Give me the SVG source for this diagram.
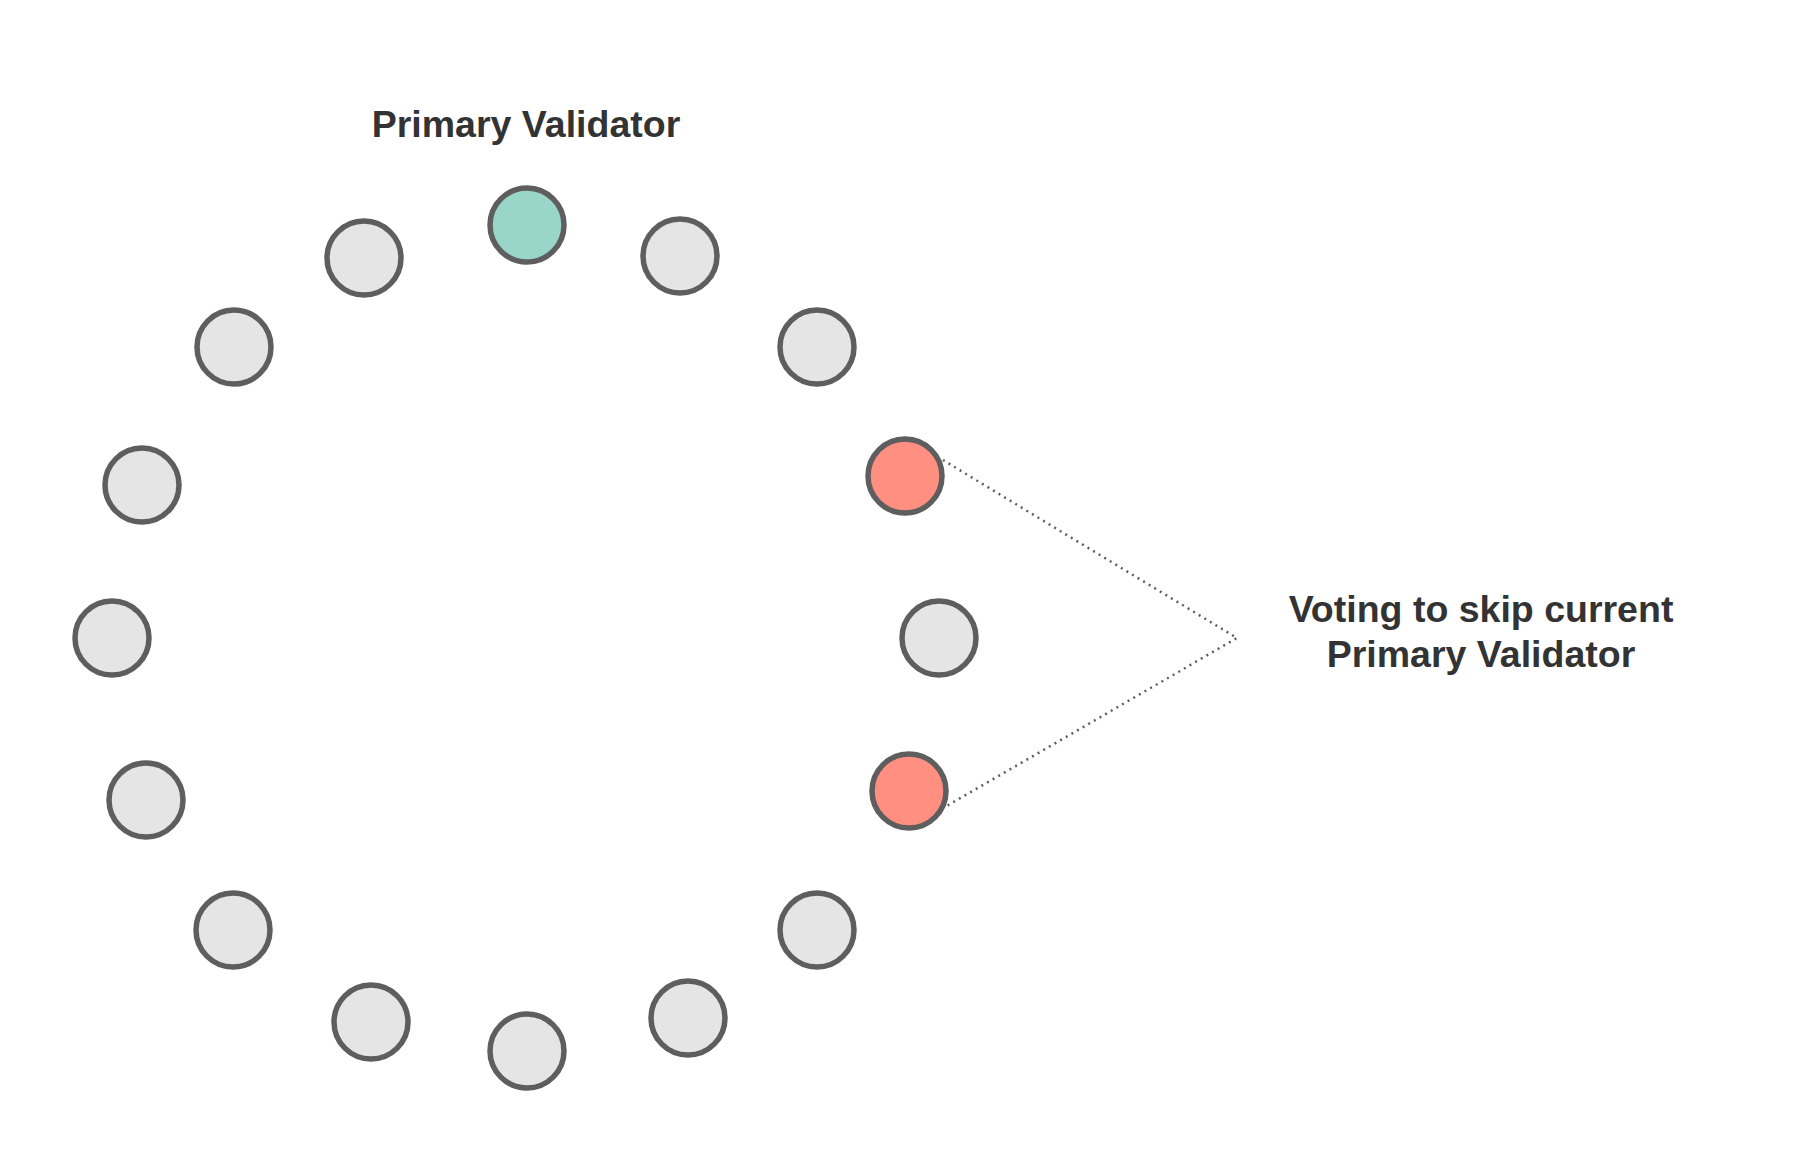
<svg xmlns="http://www.w3.org/2000/svg" width="1804" height="1163" viewBox="0 0 1804 1163">
<style>
.n{fill:#e5e5e5;stroke:#5e5e5e;stroke-width:5.5}
.p{fill:#9ad5ca}
.v{fill:#ff8f80}
.t{font-family:"Liberation Sans",Arial,sans-serif;font-weight:bold;font-size:37.5px;fill:#333;text-anchor:middle}
.c{fill:none;stroke:#5e5e5e;stroke-width:2.5;stroke-dasharray:2 4.5}
</style>
<rect width="1804" height="1163" fill="#fff"/>
<g id="connectors">
<polyline class="c" points="943,460 1237,638 945,807"/>
</g>
<g id="label-primary"><text class="t" x="526" y="137">Primary Validator</text></g>
<g id="label-voting"><text class="t" x="1481" y="622">Voting to skip current</text><text class="t" x="1481" y="667">Primary Validator</text></g>
<g id="node1"><circle class="n p" cx="527" cy="225" r="37"/></g>
<g id="node2"><circle class="n" cx="680" cy="256" r="37"/></g>
<g id="node3"><circle class="n" cx="817" cy="347" r="37"/></g>
<g id="node4"><circle class="n v" cx="905" cy="476" r="37"/></g>
<g id="node5"><circle class="n" cx="939" cy="638" r="37"/></g>
<g id="node6"><circle class="n v" cx="909" cy="791" r="37"/></g>
<g id="node7"><circle class="n" cx="817" cy="930" r="37"/></g>
<g id="node8"><circle class="n" cx="688" cy="1018" r="37"/></g>
<g id="node9"><circle class="n" cx="527" cy="1051" r="37"/></g>
<g id="node10"><circle class="n" cx="371" cy="1022" r="37"/></g>
<g id="node11"><circle class="n" cx="233" cy="930" r="37"/></g>
<g id="node12"><circle class="n" cx="146" cy="800" r="37"/></g>
<g id="node13"><circle class="n" cx="112" cy="638" r="37"/></g>
<g id="node14"><circle class="n" cx="142" cy="485" r="37"/></g>
<g id="node15"><circle class="n" cx="234" cy="347" r="37"/></g>
<g id="node16"><circle class="n" cx="364" cy="258" r="37"/></g>
</svg>
